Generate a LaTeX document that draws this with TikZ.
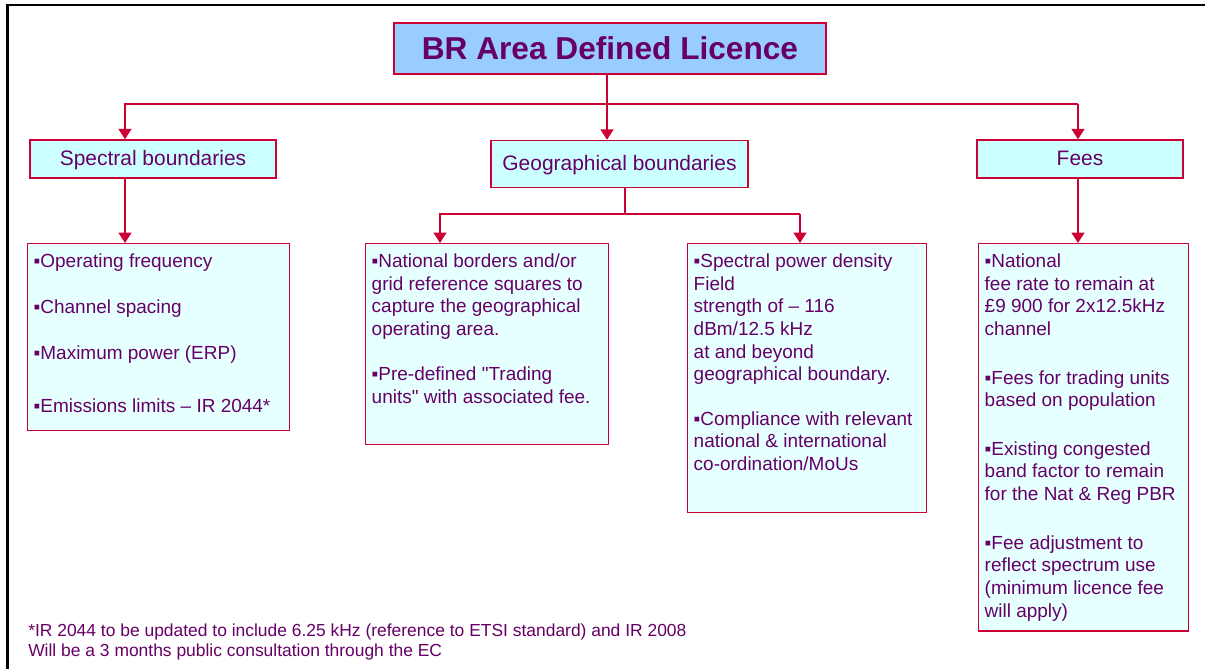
\documentclass[tikz,border=0pt]{standalone}
\usepackage{fontspec}
\setmainfont{Liberation Sans}
\usetikzlibrary{arrows.meta}

\definecolor{edge}{HTML}{CC0033}
\definecolor{ink}{HTML}{660066}
\definecolor{titlefill}{HTML}{99CCFF}
\definecolor{headfill}{HTML}{CCFFFF}
\definecolor{listfill}{HTML}{E6FFFF}

% fixed size text block for the lists
\newcommand\listtext[3]{\parbox[t][#2][t]{#1}{\raggedright #3}}

\begin{document}
\begin{tikzpicture}[x=0.025cm, y=-0.025cm,
  head/.style={draw=edge, line width=1pt, fill=headfill, text=ink,
               text depth=0.05cm, font=\fontsize{14.9}{17}\selectfont},
  list/.style={draw=edge, line width=1pt, fill=listfill, text=ink,
               anchor=north west, inner xsep=0.15cm, inner ysep=0.25cm,
               font=\fontsize{13.5}{16.1}\selectfont},
  wire/.style={draw=edge, line width=1.4pt},
  link/.style={wire, -{Triangle[width=0.32cm,length=0.26cm]}}]
\useasboundingbox (0,0) rectangle (1205,669);
\draw [line width=2.1pt] (7.5,700) -- (7.5,5) -- (1300,5);

\node[draw=edge, line width=1pt, fill=titlefill, text=ink,
      minimum width=10.8cm, minimum height=1.275cm,
      font=\bfseries\fontsize{22.5}{27}\selectfont] (title) at (610,48.5) {BR Area Defined Licence};

\node[head, minimum width=6.15cm,  minimum height=0.95cm]  (spec) at (153,159)   {Spectral boundaries};
\node[head, minimum width=6.425cm, minimum height=1.175cm] (geog) at (619.5,164) {Geographical boundaries};
\node[head, minimum width=5.15cm,  minimum height=0.95cm]  (fees) at (1080,159)  {Fees};

\node[list] (speclist) at (27,243) {\listtext{6.25cm}{4.175cm}{%
  ▪Operating frequency\\[0.58cm]
  ▪Channel spacing\\[0.58cm]
  ▪Maximum power (ERP)\\[0.78cm]
  ▪Emissions limits – IR 2044*}};
\node[list] (nat) at (365,243) {\listtext{5.775cm}{4.525cm}{%
  ▪National borders and/or\\
  grid reference squares to\\
  capture the geographical\\
  operating area.\\[0.57cm]
  ▪Pre-defined \textquotedbl Trading\\
  units\textquotedbl{} with associated fee.}};
\node[list] (spd) at (687,243) {\listtext{5.675cm}{6.225cm}{%
  ▪Spectral power density\\
  Field\\
  strength of – 116\\
  dBm/12.5 kHz\\
  at and beyond\\
  geographical boundary.\\[0.55cm]
  ▪Compliance with relevant\\
  national \& international\\
  co-ordination/MoUs}};
\node[list] (feelist) at (978,243) {\listtext{4.95cm}{9.175cm}{%
  ▪National\\
  fee rate to remain at\\
  £9 900 for 2x12.5kHz\\
  channel\\[0.65cm]
  ▪Fees for trading units\\
  based on population\\[0.65cm]
  ▪Existing congested\\
  band factor to remain\\
  for the Nat \& Reg PBR\\[0.65cm]
  ▪Fee adjustment to\\
  reflect spectrum use\\
  (minimum licence fee\\
  will apply)}};

\node[anchor=north west, inner sep=0pt, align=left, text=ink,
      font=\fontsize{12.4}{14.2}\selectfont] (note) at (28,624)
  {*IR 2044 to be updated to include 6.25 kHz (reference to ETSI standard) and IR 2008\\
   Will be a 3 months public consultation through the EC};

% top level branches
\coordinate (busL) at (125,104);
\coordinate (hub)  at (607,104);
\coordinate (busR) at (1078,104);
\draw[link] (busR) -- (busL) -- (spec.north -| busL);
\draw[link] (busR) -- (fees.north -| busR);
\draw[link] (title.south -| hub) -- (geog.north -| hub);

% second level
\coordinate (fork)  at (625,214);
\coordinate (forkL) at (440,214);
\coordinate (forkR) at (800,214);
\draw[wire] (geog.south -| fork) -- (fork);
\draw[link] (forkR) -- (forkL) -- (nat.north -| forkL);
\draw[link] (forkR) -- (spd.north -| forkR);
\draw[link] (spec.south -| busL) -- (speclist.north -| busL);
\draw[link] (fees.south -| busR) -- (feelist.north -| busR);
\end{tikzpicture}
\end{document}
